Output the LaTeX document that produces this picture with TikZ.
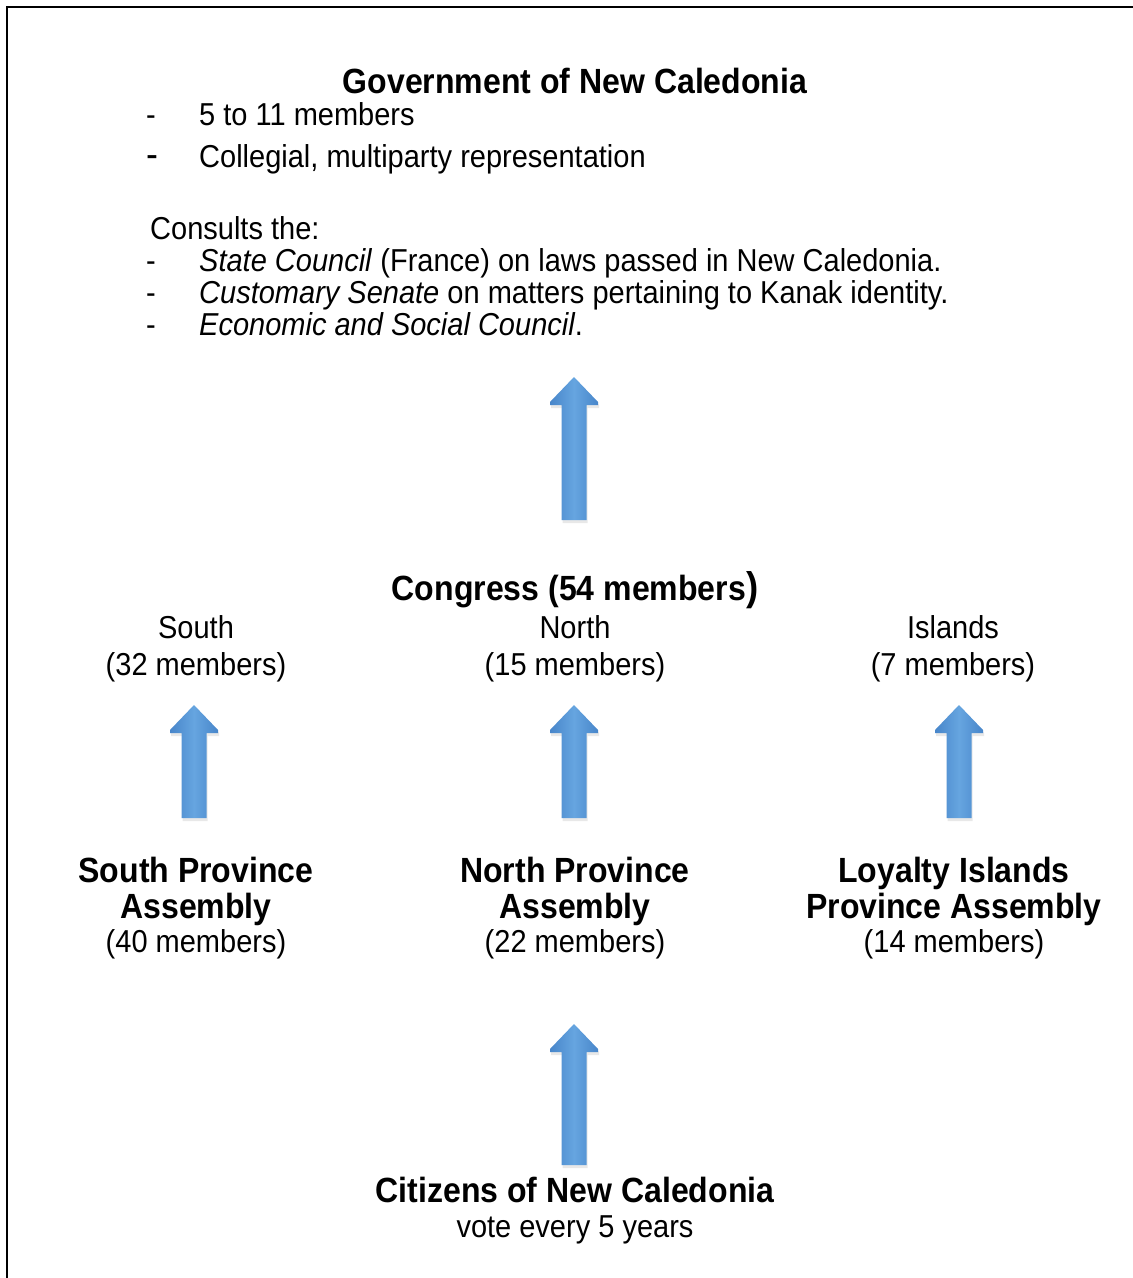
\documentclass[tikz,border=0pt]{standalone}
\usepackage{fontspec}
\setmainfont{Liberation Sans}[FakeStretch=0.915]
\usetikzlibrary{shadows}
\definecolor{arrowmid}{RGB}{102,165,224}
\definecolor{arrowedge}{RGB}{72,134,202}
\newcommand\bodysize{\fontsize{31.7}{36}\selectfont}
\newcommand\headsize{\fontsize{35}{36}\selectfont\bfseries}
\begin{document}
\begin{tikzpicture}[x=1pt,y=-1pt,
  txt/.style={inner sep=0pt, anchor=base, font=\bodysize},
  txtw/.style={inner sep=0pt, anchor=base west, font=\bodysize},
  hd/.style={inner sep=0pt, anchor=base, font=\headsize},
  blockarrow/.style={left color=arrowedge, right color=arrowedge, middle color=arrowmid,
    drop shadow={opacity=0.18, shadow xshift=1pt, shadow yshift=-3pt}},
  uparr/.pic={
    \path[blockarrow] (0,0) -- (24,25) -- (24,28) -- (12.5,28) -- (12.5,#1)
      -- (-12.5,#1) -- (-12.5,28) -- (-24,28) -- (-24,25) -- cycle;
  }]
\useasboundingbox (0,0) rectangle (1133,1278);
\fill[white] (0,0) rectangle (1133,1278);
% frame (top and left)
\draw[line width=2.3pt] (7,1278) -- (7,7) -- (1133,7);

% Government
\node[hd] (gov) at (575,93) {Government of New Caledonia};
\node[txtw] (g1) at (146,125) {\makebox[53pt][l]{-}5 to 11 members};
\node[txtw] (g2) at (146,167) {\makebox[53pt][l]{\fontsize{39}{36}\selectfont -}Collegial, multiparty representation};
\node[txtw] (cons) at (150,239) {Consults the:};
\node[txtw] (c1) at (146,271) {\makebox[53pt][l]{-}\textit{State Council} (France) on laws passed in New Caledonia.};
\node[txtw] (c2) at (146,303) {\makebox[53pt][l]{-}\textit{Customary Senate} on matters pertaining to Kanak identity.};
\node[txtw] (c3) at (146,335) {\makebox[53pt][l]{-}\textit{Economic and Social Council}.};

% Congress
\node[hd] (congress) at (575,600) {Congress (54 members{\fontsize{40}{36}\selectfont )}};
\node[txt] (south) at (196,638) {South};
\node[txt] (southn) at (196,675) {(32 members)};
\node[txt] (north) at (575,638) {North};
\node[txt] (northn) at (575,675) {(15 members)};
\node[txt] (isl) at (953,638) {Islands};
\node[txt] (isln) at (953,675) {(7 members)};

% Assemblies
\node[hd] (sa1) at (196,882) {South Province};
\node[hd] (sa2) at (196,918) {Assembly};
\node[txt] (sa3) at (196,952) {(40 members)};
\node[hd] (na1) at (575,882) {North Province};
\node[hd] (na2) at (575,918) {Assembly};
\node[txt] (na3) at (575,952) {(22 members)};
\node[hd] (la1) at (954,882) {Loyalty Islands};
\node[hd] (la2) at (954,918) {Province Assembly};
\node[txt] (la3) at (954,952) {(14 members)};

% Citizens
\node[hd] (cit) at (575,1202) {Citizens of New Caledonia};
\node[txt] (vote) at (575,1237) {vote every 5 years};

% arrows
\coordinate (aCong) at (574,377);
\coordinate (aSouth) at (194,705);
\coordinate (aNorth) at (574,705);
\coordinate (aIsl) at (959,705);
\coordinate (aCit) at (574,1024);
\pic at (aCong) {uparr=143};
\pic at (aSouth) {uparr=113};
\pic at (aNorth) {uparr=113};
\pic at (aIsl) {uparr=113};
\pic at (aCit) {uparr=141};
\end{tikzpicture}
\end{document}
